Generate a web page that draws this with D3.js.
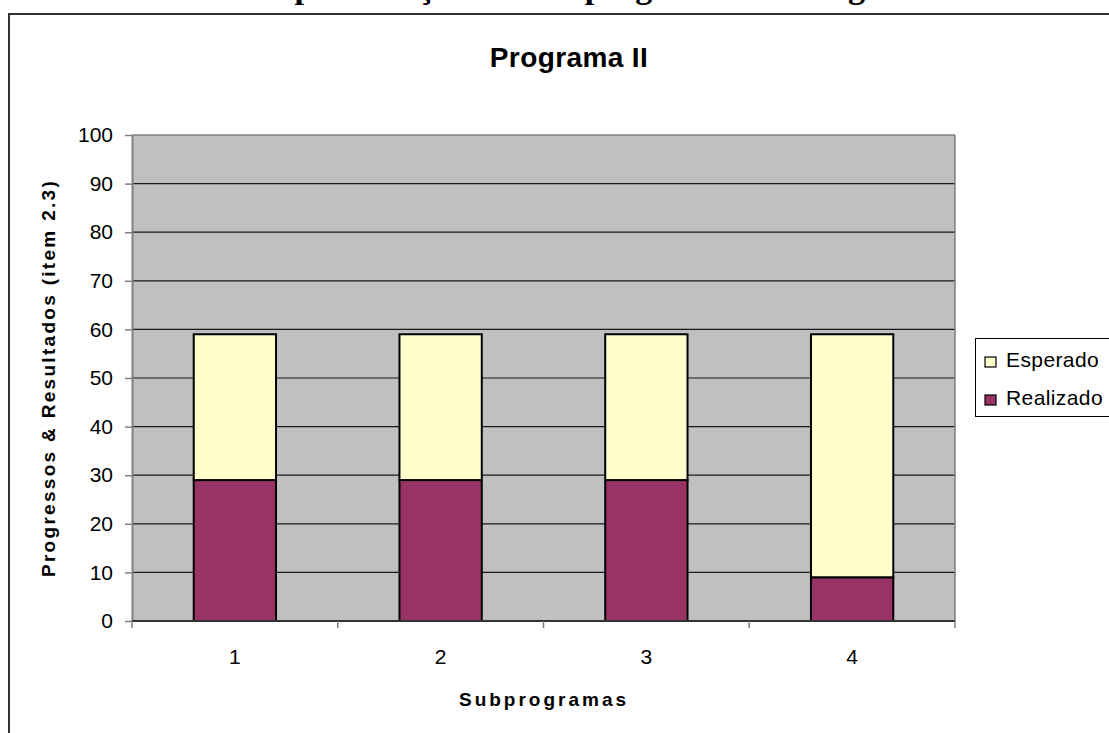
<!DOCTYPE html>
<html>
<head>
<meta charset="utf-8">
<script src="https://cdn.jsdelivr.net/npm/d3@7"></script>
<style>
  html, body { margin: 0; padding: 0; background: #fff; }
  svg { display: block; }
  text { font-family: Arial, "Liberation Sans", sans-serif; fill: #000; }
</style>
</head>
<body>
<svg id="chart" width="1109" height="733"></svg>
<script>
// Subprogram results for Programa II
const categories = ["1", "2", "3", "4"];
const realizado = [29, 29, 29, 9];
const esperado = [30, 30, 30, 50];
const seriesNames = ["Realizado", "Esperado"];
const legendOrder = ["Esperado", "Realizado"];
const yTicks = [0, 10, 20, 30, 40, 50, 60, 70, 80, 90, 100];
const colors = { Realizado: "#993366", Esperado: "#FFFFCC" };

const svg = d3.select("#chart");
const W = 1109, H = 733;
const plot = { left: 132, right: 955, top: 135, bottom: 621 };

// Page heading above the chart frame (only its descenders fall inside the page)
svg.append("text")
  .attr("x", 270).attr("y", -2.5)
  .style("font-family", "'Liberation Serif', 'Times New Roman', serif")
  .style("font-weight", "bold")
  .style("font-size", "34px")
  .text("Apresentação dos subprogramas do Programa II");

// Chart frame
svg.append("path")
  .attr("d", `M9,${H + 5} L9,14 L${W + 5},14`)
  .attr("fill", "none")
  .attr("stroke", "#333")
  .attr("stroke-width", 2);

// Table rows for the stack
const rows = categories.map((c, i) => ({ cat: c, Realizado: realizado[i], Esperado: esperado[i] }));
const stacked = d3.stack().keys(seriesNames)(rows);

const x = d3.scaleBand()
  .domain(categories)
  .range([plot.left, plot.right])
  .paddingInner(0.6)
  .paddingOuter(0.3);

const y = d3.scaleLinear().domain([0, 100]).range([plot.bottom, plot.top]);

// Plot background
svg.append("rect")
  .attr("x", plot.left).attr("y", plot.top)
  .attr("width", plot.right - plot.left)
  .attr("height", plot.bottom - plot.top)
  .attr("fill", "#C0C0C0");

// Horizontal gridlines
svg.append("g")
  .selectAll("line")
  .data(yTicks.filter(t => t > 0))
  .join("line")
  .attr("x1", plot.left).attr("x2", plot.right)
  .attr("y1", d => y(d)).attr("y2", d => y(d))
  .attr("stroke", d => d === 100 ? "#808080" : "#1a1a1a")
  .attr("stroke-width", d => d === 100 ? 1.5 : 1.2);

// Right edge of plot area
svg.append("line")
  .attr("x1", plot.right).attr("x2", plot.right)
  .attr("y1", plot.top).attr("y2", plot.bottom)
  .attr("stroke", "#808080").attr("stroke-width", 1.5);

// Stacked bars
svg.append("g")
  .selectAll("g")
  .data(stacked)
  .join("g")
  .attr("fill", d => colors[d.key])
  .selectAll("rect")
  .data(d => d)
  .join("rect")
  .attr("x", d => x(d.data.cat))
  .attr("width", x.bandwidth())
  .attr("y", d => y(d[1]))
  .attr("height", d => y(d[0]) - y(d[1]))
  .attr("stroke", "#000")
  .attr("stroke-width", 2);

// Y axis
const yAxis = svg.append("g")
  .attr("transform", `translate(${plot.left},0)`)
  .call(d3.axisLeft(y).tickValues(yTicks).tickSize(7).tickPadding(12).tickSizeOuter(0));
yAxis.select(".domain").attr("stroke", "#808080").attr("stroke-width", 2);
yAxis.selectAll(".tick line").attr("stroke", "#808080").attr("stroke-width", 1.5);
yAxis.selectAll(".tick text")
  .style("font-family", "Arial, 'Liberation Sans', sans-serif")
  .style("font-size", "21px")
  .attr("fill", "#000");

// X axis line and category boundary ticks
svg.append("line")
  .attr("x1", plot.left).attr("x2", plot.right)
  .attr("y1", plot.bottom).attr("y2", plot.bottom)
  .attr("stroke", "#333").attr("stroke-width", 2);
svg.append("g")
  .selectAll("line")
  .data(d3.range(categories.length + 1))
  .join("line")
  .attr("x1", i => plot.left + i * x.step())
  .attr("x2", i => plot.left + i * x.step())
  .attr("y1", plot.bottom).attr("y2", plot.bottom + 7)
  .attr("stroke", "#808080").attr("stroke-width", 1.5);

// X category labels
svg.append("g")
  .selectAll("text")
  .data(categories)
  .join("text")
  .attr("x", d => x(d) + x.bandwidth() / 2)
  .attr("y", 664)
  .attr("text-anchor", "middle")
  .style("font-size", "21px")
  .text(d => d);

// Chart title
svg.append("text")
  .attr("x", 569).attr("y", 67)
  .attr("text-anchor", "middle")
  .style("font-weight", "bold")
  .style("font-size", "28px")
  .style("letter-spacing", "0.4px")
  .text("Programa II");

// Axis titles
svg.append("text")
  .attr("x", 544).attr("y", 706)
  .attr("text-anchor", "middle")
  .style("font-weight", "bold")
  .style("font-size", "19px")
  .style("letter-spacing", "3px")
  .text("Subprogramas");

svg.append("text")
  .attr("transform", `translate(55,${(plot.top + plot.bottom) / 2}) rotate(-90)`)
  .attr("text-anchor", "middle")
  .style("font-weight", "bold")
  .style("font-size", "19px")
  .style("letter-spacing", "2.3px")
  .text("Progressos & Resultados (item 2.3)");

// Legend
const legend = svg.append("g").attr("transform", "translate(975,338)");
legend.append("rect")
  .attr("x", 0.5).attr("y", 0.5)
  .attr("width", 160).attr("height", 78)
  .attr("fill", "#fff")
  .attr("stroke", "#000").attr("stroke-width", 1);
const items = legend.selectAll("g.item")
  .data(legendOrder)
  .join("g")
  .attr("class", "item")
  .attr("transform", (d, i) => `translate(0,${19 + i * 38})`);
items.append("rect")
  .attr("x", 10).attr("y", 0)
  .attr("width", 11).attr("height", 10)
  .attr("fill", d => colors[d])
  .attr("stroke", "#000").attr("stroke-width", 1.2);
items.append("text")
  .attr("x", 31).attr("y", 10)
  .style("font-size", "21px")
  .style("letter-spacing", "0.4px")
  .text(d => d);
</script>
</body>
</html>
